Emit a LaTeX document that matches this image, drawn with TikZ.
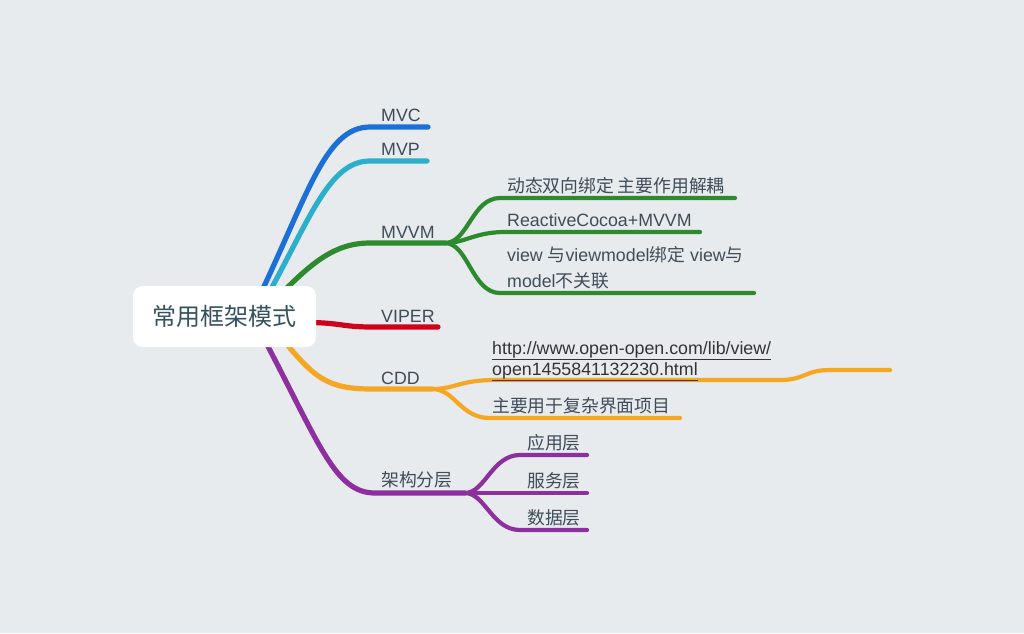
\documentclass[tikz,border=0pt]{standalone}
\usepackage{fontspec}
\setmainfont{Liberation Sans}
\newfontfamily\cjk{Noto Sans CJK SC}
\usetikzlibrary{calc}
\definecolor{bgc}{HTML}{E8EBEE}
\definecolor{cmvc}{HTML}{1B6FD6}
\definecolor{cmvp}{HTML}{2BAFCA}
\definecolor{cgreen}{HTML}{2E8A2E}
\definecolor{cred}{HTML}{D0021B}
\definecolor{corange}{HTML}{F5A623}
\definecolor{cpurple}{HTML}{8E2FA0}
\definecolor{ctext}{HTML}{3E4D59}
\definecolor{croot}{HTML}{35525F}
\definecolor{curl}{HTML}{333333}
\pgfdeclarelayer{back}
\pgfdeclarelayer{lines}
\pgfsetlayers{back,lines,main}
\tikzset{
  mainline/.style={line width=5.2pt, line cap=round},
  subline/.style={line width=4.2pt, line cap=round},
  lbl/.style={anchor=base west, inner sep=0pt, text=ctext, font=\fontsize{17.8}{23}\selectfont},
}
\begin{document}
\begin{tikzpicture}[x=1pt,y=-1pt]
\begin{pgfonlayer}{back}
\fill[bgc] (0,0) rectangle (1024,633);
\end{pgfonlayer}
\useasboundingbox (0,0) rectangle (1024,633);

% root
\node[fill=white, rounded corners=10pt, minimum width=183pt, minimum height=61pt, inner sep=0pt,
  text=croot, font=\cjk\fontsize{24}{28}\selectfont] (root) at (224.5,316.5) {常用框架模式};

% coordinates
\coordinate (mvc-e) at (370,127);
\coordinate (mvp-e) at (370,161);
\coordinate (mvvm-e) at (370,243);
\coordinate (viper-e) at (372,327);
\coordinate (cdd-e) at (372,389);
\coordinate (jg-e) at (375,493);
\coordinate (mvvm-f) at (445,243);
\coordinate (cdd-f) at (432,389);
\coordinate (jg-f) at (465,493);

% labels
\node[lbl] (mvc) at (381,121) {MVC};
\node[lbl] (mvp) at (381,155) {MVP};
\node[lbl] (mvvm) at (381,238) {MVVM};
\node[lbl] (viper) at (381,322) {VIPER};
\node[lbl] (cdd) at (381,384.5) {CDD};
\node[lbl] (jg) at (381,486) {\cjk 架构分层};

\node[lbl] (m1) at (507,192) {\cjk 动态双向绑定 主要作用解耦};
\node[lbl] (m2) at (507,226) {ReactiveCocoa+MVVM};
\node[lbl, align=left, font=\fontsize{17.8}{26}\selectfont] (m3) at (507,287) {view {\cjk 与}viewmodel{\cjk 绑定} view{\cjk 与}\\model{\cjk 不关联}};

\node[lbl, align=left, text=curl, font=\fontsize{17.8}{21}\selectfont] (c1) at (492,375) {\underline{http://www.open-open.com/lib/view/}\\\underline{open1455841132230.html}};
\node[lbl] (c2) at (492,412) {\cjk 主要用于复杂界面项目};

\node[lbl] (j1) at (527,449) {\cjk 应用层};
\node[lbl] (j2) at (527,487) {\cjk 服务层};
\node[lbl] (j3) at (527,524) {\cjk 数据层};

\begin{pgfonlayer}{lines}
% main branches
\draw[mainline, cmvc] ($(root.center)+(31,-12)$) .. controls (308,195) and (325,127) .. (mvc-e) -- (428,127);
\draw[mainline, cmvp] ($(root.center)+(38,-12)$) .. controls (309,222) and (328,161) .. (mvp-e) -- (427,161);
\draw[mainline, cgreen] ($(root.center)+(52,-18)$) .. controls (312,262) and (335,243) .. (mvvm-e) -- (mvvm-f);
\draw[mainline, cred] ($(root.center)+(76,6)$) .. controls (340,322) and (340,327) .. (viper-e) -- (438,327);
\draw[mainline, corange] ($(root.center)+(56,20)$) .. controls (314,378) and (327,389) .. (cdd-e) -- (cdd-f);
\draw[mainline, cpurple] ($(root.center)+(37.5,18.5)$) .. controls (320,445) and (335,493) .. (jg-e) -- (jg-f);

% MVVM children
\draw[subline, cgreen] (mvvm-f) .. controls (468,243) and (472,198) .. (500,198) -- (735,198);
\draw[subline, cgreen] (mvvm-f) .. controls (465,243) and (475,232) .. (505,232) -- (700,232);
\draw[subline, cgreen] (mvvm-f) .. controls (468,243) and (472,293) .. (500,293) -- (754,293);

% CDD children
\draw[subline, corange] (cdd-f) .. controls (455,389) and (460,380) .. (495,380) -- (780,380)
   .. controls (805,380) and (805,370) .. (830,370) -- (890,370);
\draw[subline, corange] (cdd-f) .. controls (455,389) and (460,418) .. (490,418) -- (680,418);

% purple children
\draw[subline, cpurple] (jg-f) .. controls (485,493) and (492,455) .. (520,455) -- (587,455);
\draw[subline, cpurple] (jg-f) -- (587,493);
\draw[subline, cpurple] (jg-f) .. controls (485,493) and (492,530) .. (520,530) -- (587,530);
\end{pgfonlayer}
\end{tikzpicture}
\end{document}
